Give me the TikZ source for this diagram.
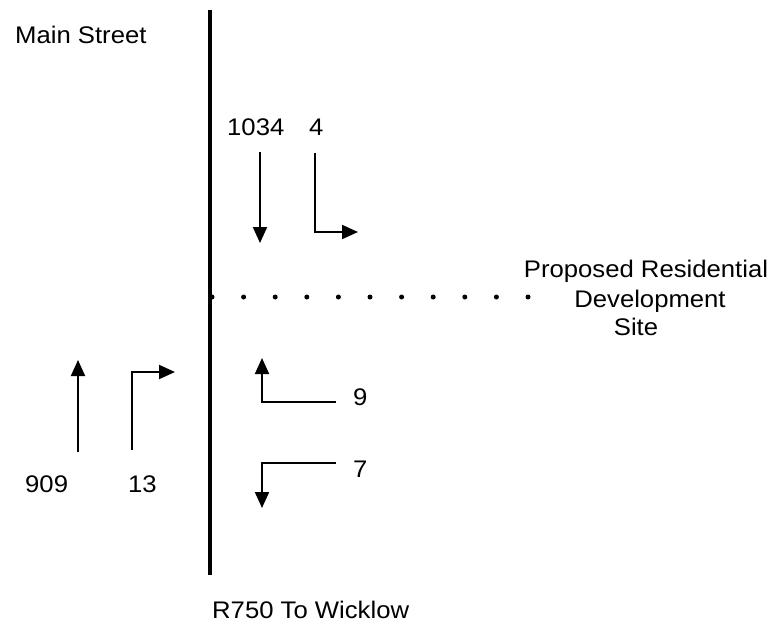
\documentclass[tikz,border=0pt]{standalone}
\usepackage{fontspec}
\setmainfont{Liberation Sans}[FakeStretch=1.07]
\usetikzlibrary{arrows.meta}
\begin{document}
\begin{tikzpicture}[x=1pt,y=-1pt,
  lbl/.style={inner sep=0pt,font=\fontsize{24}{29}\selectfont},
  road/.style={line width=4.5pt},
  mv/.style={line width=2pt,-{Triangle[length=16pt,width=14pt]}},
  dotmark/.style={fill=black}]
\useasboundingbox[fill=white] (0,0) rectangle (770,625);
% main road
\coordinate (rtop) at (210,10);
\coordinate (rbot) at (210,575);
\draw[road] (rtop) -- (rbot);
% labels
\node[lbl,anchor=base west] (main) at (15,43) {Main Street};
\node[lbl,anchor=base west] (r750) at (212,618) {R750 To Wicklow};
\node[lbl,anchor=base] (site1) at (646,277) {Proposed Residential};
\node[lbl,anchor=base] (site2) at (650,307) {Development};
\node[lbl,anchor=base] (site3) at (636,335) {Site};
\node[lbl,anchor=base west] (n1034) at (227,135) {1034};
\node[lbl,anchor=base west] (n4) at (309,135) {4};
\node[lbl,anchor=base west] (n909) at (25,492) {909};
\node[lbl,anchor=base west] (n13) at (128,492) {13};
\node[lbl,anchor=base west] (n9) at (353,405) {9};
\node[lbl,anchor=base west] (n7) at (353,477) {7};
% dotted site access line
\foreach \i in {0,...,10}{
  \fill[dotmark] (212+31.6*\i,297) circle (2.5pt);
}
% southbound movements
\coordinate (a1s) at (260,152);
\coordinate (a1e) at (260,243);
\draw[mv] (a1s) -- (a1e);
\coordinate (a2s) at (315,153);
\coordinate (a2c) at (315,232);
\coordinate (a2e) at (358,232);
\draw[mv] (a2s) -- (a2c) -- (a2e);
% northbound movements
\coordinate (a3s) at (78,452);
\coordinate (a3e) at (78,360);
\draw[mv] (a3s) -- (a3e);
\coordinate (a4s) at (132,450);
\coordinate (a4c) at (132,372);
\coordinate (a4e) at (175,372);
\draw[mv] (a4s) -- (a4c) -- (a4e);
% site movements
\coordinate (a5s) at (336,402);
\coordinate (a5c) at (262,402);
\coordinate (a5e) at (262,358);
\draw[mv] (a5s) -- (a5c) -- (a5e);
\coordinate (a6s) at (336,463);
\coordinate (a6c) at (262,463);
\coordinate (a6e) at (262,508);
\draw[mv] (a6s) -- (a6c) -- (a6e);
\end{tikzpicture}
\end{document}
